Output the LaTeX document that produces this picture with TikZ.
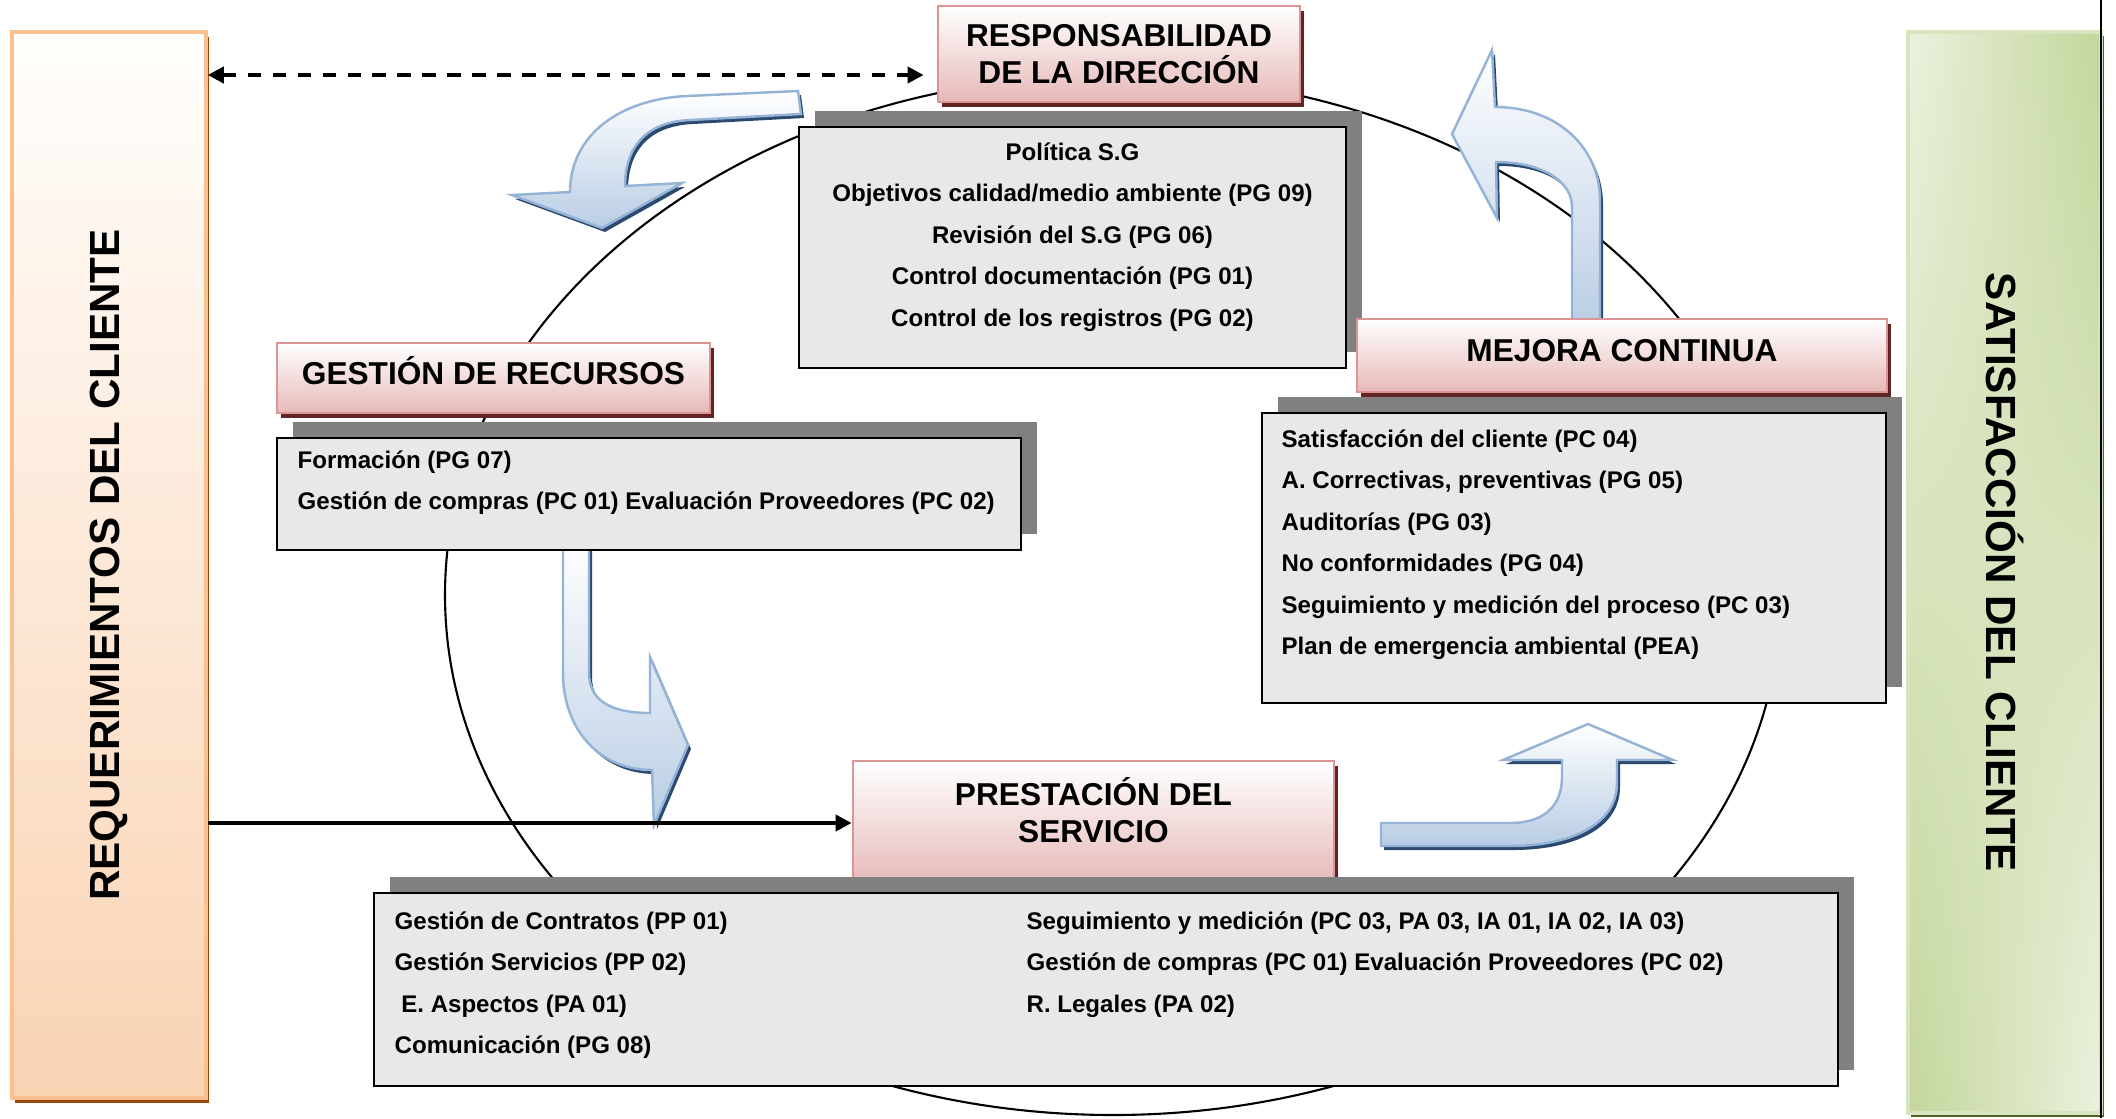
\documentclass[tikz,border=0pt]{standalone}
\usepackage{fontspec}
\setmainfont{Liberation Sans}
\usetikzlibrary{shadows,shadings,arrows.meta}

\definecolor{hdrborder}{HTML}{D99694}
\definecolor{hdrpink}{HTML}{E6B9B8}
\definecolor{hdrdark}{HTML}{632523}
\definecolor{boxgray}{HTML}{E8E8E8}
\definecolor{boxshadow}{HTML}{808080}
\definecolor{arrowline}{HTML}{95B3D7}
\definecolor{arrowblue}{HTML}{B9CDE5}
\definecolor{arrowdark}{HTML}{2C4A70}
\definecolor{reqtop}{HTML}{FFFEFC}
\definecolor{reqbottom}{HTML}{FAD3B3}
\definecolor{reqline}{HTML}{FAC090}
\definecolor{reqdark}{HTML}{984807}
\definecolor{satlight}{HTML}{EBF1DE}
\definecolor{satgreen}{HTML}{C3D69B}
\definecolor{satline}{HTML}{D7E4BD}
\definecolor{satdark}{HTML}{4F6228}

\begin{document}
\begin{tikzpicture}[x=0.1mm, y=-0.1mm,
  header/.style={draw=hdrborder, line width=0.8pt, top color=white, bottom color=hdrpink,
    align=center, font=\bfseries\fontsize{9}{10.6}\selectfont,
    drop shadow={shadow xshift=0.4mm, shadow yshift=-0.5mm, fill=hdrdark, opacity=1}},
  itembox/.style={draw=black, line width=0.6pt, fill=boxgray,
    drop shadow={shadow xshift=1.6mm, shadow yshift=1.6mm, fill=boxshadow, opacity=1}},
  itemtext/.style={font=\bfseries\fontsize{6.85}{11.8}\selectfont},
  bartext/.style={font=\bfseries\fontsize{12}{14}\selectfont},
  bluearrow/.style={draw=arrowline, line width=0.7pt, top color=white, bottom color=arrowblue,
    drop shadow={shadow xshift=0.3mm, shadow yshift=-0.4mm, fill=arrowdark, opacity=1}},
  flow/.style={line width=1.3pt, -{Triangle[length=1.6mm, width=1.6mm]}},
  dashflow/.style={line width=1.3pt, dash pattern=on 3.8pt off 3.3pt,
    {Triangle[length=1.6mm, width=1.6mm]}-{Triangle[length=1.6mm, width=1.6mm]}}]
        \tikzstyle{every node}+=[inner sep=0pt]
        \useasboundingbox (0,0) rectangle (2116,1118);
        \draw [line width=0.6pt] (1113,595) ellipse [x radius=66.8mm, y radius=52mm];
        \node [draw=reqline, line width=1pt, top color=reqtop, bottom color=reqbottom,
          minimum width=19.4mm, minimum height=106.6mm,
          drop shadow={shadow xshift=0.25mm, shadow yshift=-0.5mm, fill=reqdark, opacity=1}] (reqbar) at (109,565) {};
        \node [bartext, rotate=90] (reqtxt) at (reqbar) {REQUERIMIENTOS DEL CLIENTE};
        \node [draw=satline, line width=1pt, upper left=satlight, upper right=satgreen,
          lower left=satgreen, lower right=satlight, minimum width=19.3mm, minimum height=108.1mm,
          drop shadow={shadow xshift=0.3mm, shadow yshift=-0.4mm, fill=satdark, opacity=1}] (satbar) at (2004.5,572.5) {};
        \node [bartext, rotate=-90] (sattxt) at (satbar) {SATISFACCIÓN DEL CLIENTE};
        \draw [line width=0.6pt] (2101,0) -- (2101,1118);
        \draw [bluearrow] (798,91) -- (687,96) .. controls (620,99) and (570,135) .. (570,192) -- (512,195) -- (602,228) -- (682,183) -- (625,186) .. controls (625,148) and (645,122) .. (690,120) -- (801,114) -- cycle;
        \draw [bluearrow] (563,540) -- (563,673) .. controls (563,730) and (600,770) .. (652,770) -- (654,825) -- (688,745) -- (650,657) -- (650,713) .. controls (610,713) and (589,700) .. (589,673) -- (589,540) -- cycle;
        \draw [bluearrow] (1381,823) -- (1510,823) .. controls (1545,823) and (1562,805) .. (1562,777) -- (1562,760) -- (1503,760) -- (1588,724) -- (1673,760) -- (1617,760) -- (1617,783) .. controls (1617,825) and (1570,846) .. (1510,846) -- (1381,846) -- cycle;
        \draw [bluearrow] (1572,330) -- (1572,207) .. controls (1572,180) and (1540,162) .. (1496,162) -- (1497,218) -- (1452,134) -- (1492,50) -- (1495,107) .. controls (1560,107) and (1600,150) .. (1600,200) -- (1600,330) -- cycle;
        \node [header, minimum width=48.1mm, minimum height=12.4mm, text height=19.3pt, text depth=8pt] (serv) at (1093.5,823) {PRESTACIÓN DEL\\SERVICIO};
        \node [itembox, minimum width=54.7mm, minimum height=24.1mm] (respbox) at (1072.5,247.5) {};
        \node [itembox, minimum width=74.4mm, minimum height=11.2mm] (recbox) at (649,494) {};
        \node [itembox, minimum width=62.4mm, minimum height=29mm] (mejorabox) at (1574,558) {};
        \node [itembox, minimum width=146.4mm, minimum height=19.3mm] (servbox) at (1106,989.5) {};
        \node [header, minimum width=36.2mm, minimum height=9.6mm] (resp) at (1119,54) {RESPONSABILIDAD\\DE LA DIRECCIÓN};
        \node [header, minimum width=43.3mm, minimum height=7mm, text height=8.5pt, text depth=5pt] (rec) at (493.5,378) {GESTIÓN DE RECURSOS};
        \node [header, minimum width=53mm, minimum height=7.3mm, text height=8.5pt, text depth=5pt] (mejora) at (1622,355.5) {MEJORA CONTINUA};
        \node [itemtext, align=center, anchor=north] (resptxt) at ([yshift=-1.6mm]respbox.north) {Política S.G\\Objetivos calidad/medio ambiente (PG 09)\\Revisión del S.G (PG 06)\\Control documentación (PG 01)\\Control de los registros (PG 02)};
        \node [itemtext, align=left, anchor=north west] (rectxt) at ([xshift=2.1mm, yshift=-1.3mm]recbox.north west) {Formación (PG 07)\\Gestión de compras (PC 01) Evaluación Proveedores (PC 02)};
        \node [itemtext, align=left, anchor=north west] (mejoratxt) at ([xshift=2mm, yshift=-1.7mm]mejorabox.north west) {Satisfacción del cliente (PC 04)\\A. Correctivas, preventivas (PG 05)\\Auditorías (PG 03)\\No conformidades (PG 04)\\Seguimiento y medición del proceso (PC 03)\\Plan de emergencia ambiental (PEA)};
        \node [itemtext, align=left, anchor=north west] (servleft) at ([xshift=2.1mm, yshift=-1.9mm]servbox.north west) {Gestión de Contratos (PP 01)\\Gestión Servicios (PP 02)\\\ E. Aspectos (PA 01)\\Comunicación (PG 08)};
        \node [itemtext, align=left, anchor=north west] (servright) at ([xshift=65.3mm, yshift=-1.9mm]servbox.north west) {Seguimiento y medición (PC 03, PA 03, IA 01, IA 02, IA 03)\\Gestión de compras (PC 01) Evaluación Proveedores (PC 02)\\R. Legales (PA 02)};
        \coordinate (dashy) at (0,75);
        \coordinate (flowy) at (0,823);
        \draw [dashflow, shorten >=1.3mm] (reqbar.east |- dashy) -- (resp.west |- dashy);
        \draw [flow] (reqbar.east |- flowy) -- (serv.west |- flowy);
\end{tikzpicture}
\end{document}
